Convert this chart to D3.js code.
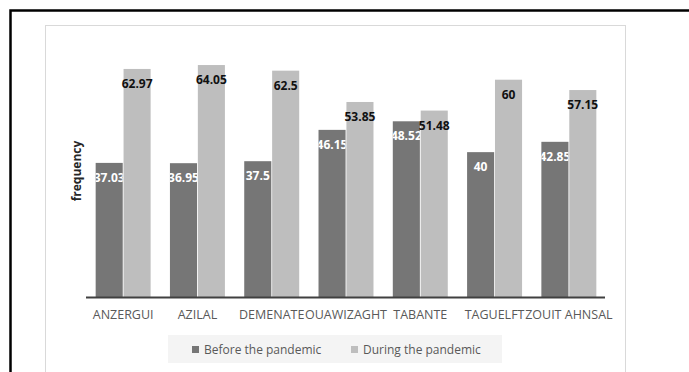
<!DOCTYPE html>
<html>
<head>
<meta charset="utf-8">
<script src="https://cdn.jsdelivr.net/npm/d3@7"></script>
<style>
  html, body { margin: 0; padding: 0; background: #fff; }
  svg { display: block; }
  text { font-family: "Open Sans", "Noto Sans", sans-serif; }
</style>
</head>
<body>
<svg id="chart" width="689" height="372"></svg>
<script>
// Frequency by locality, before and during the pandemic
const categories = ["ANZERGUI", "AZILAL", "DEMENATE", "OUAWIZAGHT", "TABANTE", "TAGUELFT", "ZOUIT AHNSAL"];
const beforeValues = [37.03, 36.95, 37.5, 46.15, 48.52, 40, 42.85];
const duringValues = [62.97, 64.05, 62.5, 53.85, 51.48, 60, 57.15];
const seriesNames = ["Before the pandemic", "During the pandemic"];
const seriesColors = ["#767676", "#bebebe"];
const labelColors = ["#ffffff", "#111111"];
const yTitle = "frequency";

const series = [beforeValues, duringValues];
const svg = d3.select("#chart");

// outer frame and chart area
svg.append("rect")
  .attr("x", 10.5).attr("y", 10.5).attr("width", 700).attr("height", 400)
  .attr("fill", "#fff").attr("stroke", "#000").attr("stroke-width", 2.5);
svg.append("rect")
  .attr("x", 45.5).attr("y", 25.5).attr("width", 580).attr("height", 400)
  .attr("fill", "#fff").attr("stroke", "#d9d9d9").attr("stroke-width", 1);

const y = d3.scaleLinear().domain([0, 70]).range([297, 43.5]);
const x = d3.scaleBand().domain(categories).range([86, 606])
  .paddingInner(0.26).paddingOuter(0.13);
const xs = d3.scaleBand().domain([0, 1]).range([0, x.bandwidth()]).paddingInner(0.03);

const rows = categories.map((c, i) => ({ c, vals: series.map(s => s[i]) }));

const groups = svg.append("g").selectAll("g").data(rows).join("g")
  .attr("transform", d => `translate(${x(d.c)},0)`);

groups.selectAll("rect").data(d => d.vals.map((v, k) => ({ v, k }))).join("rect")
  .attr("x", d => xs(d.k))
  .attr("width", xs.bandwidth())
  .attr("y", d => y(d.v))
  .attr("height", d => y(0) - y(d.v))
  .attr("fill", d => seriesColors[d.k]);

// value labels inside the top of each bar, clipped to the bar for the light text
const defs = svg.append("defs");
groups.each(function (row, gi) {
  row.vals.forEach((v, k) => {
    if (k === 0) {
      defs.append("clipPath").attr("id", "clip" + gi)
        .append("rect")
        .attr("x", x(row.c) + xs(k)).attr("y", y(v))
        .attr("width", xs.bandwidth()).attr("height", y(0) - y(v));
    }
  });
});

svg.append("g").selectAll("text")
  .data(rows.flatMap((r, gi) => r.vals.map((v, k) => ({ c: r.c, v, k, gi }))))
  .join("text")
  .attr("x", d => x(d.c) + xs(d.k) + xs.bandwidth() / 2)
  .attr("y", d => y(d.v) + 19)
  .attr("text-anchor", "middle")
  .attr("font-size", 12)
  .attr("font-weight", 700)
  .attr("fill", d => labelColors[d.k])
  .attr("clip-path", d => d.k === 0 ? `url(#clip${d.gi})` : null)
  .text(d => String(d.v));

// category axis
const xAxis = svg.append("g").attr("transform", `translate(0,${y(0) + 0.5})`)
  .call(d3.axisBottom(x).tickSize(0).tickPadding(13));
xAxis.select(".domain").attr("stroke", "#404040").attr("stroke-width", 2)
  .attr("d", "M86,0H605");
xAxis.selectAll("text")
  .attr("font-size", 12.5)
  .attr("fill", "#595959")
  .attr("font-family", "\"Open Sans\", sans-serif");

// y axis title
svg.append("text")
  .attr("transform", "translate(81,171) rotate(-90)")
  .attr("text-anchor", "middle")
  .attr("font-size", 12)
  .attr("font-weight", 700)
  .attr("fill", "#262626")
  .text(yTitle);

// legend
const legend = svg.append("g");
legend.append("rect")
  .attr("x", 168).attr("y", 335).attr("width", 334).attr("height", 28)
  .attr("fill", "#f4f4f4");
const legendX = [192, 351];
seriesNames.forEach((name, k) => {
  legend.append("rect")
    .attr("x", legendX[k]).attr("y", 346).attr("width", 7).attr("height", 7)
    .attr("fill", seriesColors[k]);
  legend.append("text")
    .attr("x", legendX[k] + 12).attr("y", 353.5)
    .attr("font-size", 12)
    .attr("fill", "#595959")
    .text(name);
});
</script>
</body>
</html>
